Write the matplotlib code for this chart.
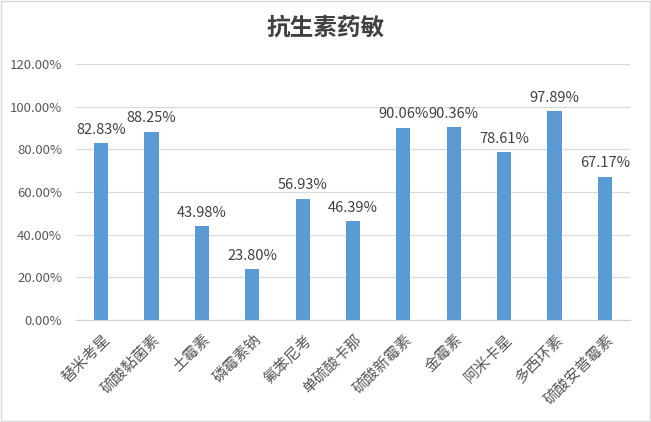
import matplotlib
matplotlib.use('Agg')
import matplotlib.pyplot as plt
from matplotlib.ticker import FuncFormatter, MultipleLocator

plt.rcParams['font.family'] = ['Noto Sans CJK SC', 'DejaVu Sans']

# ── data ──────────────────────────────────────────────────────────────────────
drugs = ['替米考星', '硫酸黏菌素', '土霉素', '磷霉素钠', '氟苯尼考', '单硫酸卡那',
         '硫酸新霉素', '金霉素', '阿米卡星', '多西环素', '硫酸安普霉素']
rates = [82.83, 88.25, 43.98, 23.80, 56.93, 46.39, 90.06, 90.36, 78.61, 97.89, 67.17]

BLUE = '#5b9bd5'
GREY = '#595959'

fig = plt.figure(figsize=(6.51, 4.22), dpi=100)
ax = fig.add_axes([76 / 651, 1 - 320 / 422, 554 / 651, 256 / 422])

x = range(len(drugs))
ax.bar(x, rates, width=0.28, color=BLUE, zorder=3)

for i, v in enumerate(rates):
    ax.text(i, v + 3, f'{v:.2f}%', ha='center', va='bottom',
            fontsize=10.5, color='#404040', zorder=4)

ax.set_xlim(-0.5, len(drugs) - 0.5)
ax.set_ylim(0, 120)
ax.yaxis.set_major_locator(MultipleLocator(20))
ax.yaxis.set_major_formatter(FuncFormatter(lambda v, _: f'{v:.2f}%'))
ax.grid(axis='y', color='#d9d9d9', lw=0.9, zorder=0)
for s in ['top', 'right', 'left']:
    ax.spines[s].set_visible(False)
ax.spines['bottom'].set_color('#d0d0d0')
ax.tick_params(length=0, colors=GREY)
ax.tick_params(axis='y', labelsize=9.5, pad=10)

ax.set_xticks(list(x))
ax.set_xticklabels(drugs, rotation=45, ha='right', rotation_mode='anchor',
                   fontsize=11, color=GREY)
ax.tick_params(axis='x', pad=8)

fig.text(0.5, 1 - 28 / 422, '抗生素药敏', ha='center', va='center',
         fontsize=17, fontweight='bold', color='#404040')

fig.patches.append(plt.Rectangle((0.002, 0.002), 0.996, 0.995, fill=False,
                                 ec='#d9d9d9', lw=1, transform=fig.transFigure))

fig.savefig('out.png', dpi=100, facecolor='white')
